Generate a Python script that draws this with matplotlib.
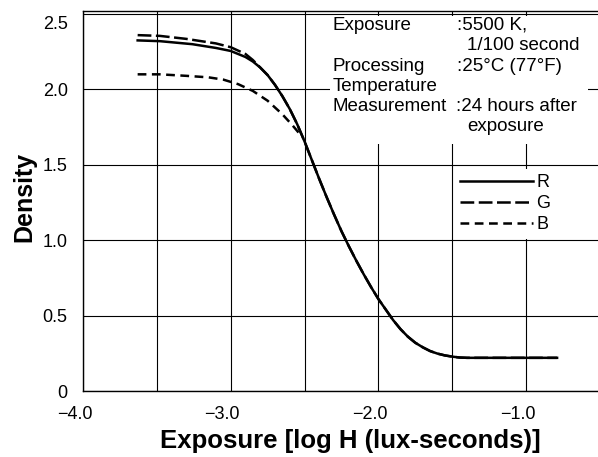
import matplotlib
matplotlib.use("Agg")
import matplotlib.pyplot as plt
import matplotlib.transforms as mtransforms
from matplotlib.patches import Rectangle

plt.rcParams['font.family'] = ['Liberation Sans', 'DejaVu Sans']

# characteristic curves
r_x = [-3.63, -3.48, -3.26, -3.10, -3.00, -2.90, -2.85, -2.80, -2.75, -2.70, -2.65, -2.60,
       -2.55, -2.50, -2.45, -2.40, -2.35, -2.30, -2.25, -2.20, -2.15, -2.10, -2.05, -2.00,
       -1.95, -1.90, -1.85, -1.80, -1.75, -1.70, -1.65, -1.60, -1.55, -1.50, -1.45, -1.40, -0.79]
r_y = [2.325, 2.32, 2.30, 2.275, 2.255, 2.215, 2.185, 2.145, 2.095, 2.03, 1.955, 1.87,
       1.77, 1.655, 1.53, 1.405, 1.285, 1.17, 1.06, 0.96, 0.865, 0.775, 0.69, 0.61,
       0.54, 0.47, 0.41, 0.36, 0.32, 0.29, 0.265, 0.248, 0.236, 0.228, 0.222, 0.22, 0.22]

g_x = [-3.63, -3.48, -3.30, -3.10, -3.00, -2.90, -2.85, -2.80, -2.75, -2.70, -2.65, -2.60,
       -2.55, -2.50, -2.45, -2.40, -2.35, -2.30, -2.25, -2.20, -2.15, -2.10, -2.05, -2.00,
       -1.95, -1.90, -1.85, -1.80, -1.75, -1.70, -1.65, -1.60, -1.55, -1.50, -1.45, -1.40, -0.79]
g_y = [2.36, 2.355, 2.335, 2.305, 2.28, 2.235, 2.195, 2.145, 2.095, 2.03, 1.955, 1.87,
       1.77, 1.655, 1.53, 1.405, 1.285, 1.17, 1.06, 0.96, 0.865, 0.775, 0.69, 0.61,
       0.54, 0.47, 0.41, 0.36, 0.32, 0.29, 0.265, 0.248, 0.236, 0.228, 0.222, 0.22, 0.22]

b_x = [-3.63, -3.48, -3.30, -3.15, -3.05, -2.95, -2.85, -2.75, -2.65, -2.58, -2.52]
b_y = [2.10, 2.10, 2.09, 2.08, 2.065, 2.035, 1.99, 1.925, 1.835, 1.76, 1.69]

x_ticks = [-4.0, -3.0, -2.0, -1.0]
x_tick_labels = ['\u22124.0', '\u22123.0', '\u22122.0', '\u22121.0']
x_grid = [-3.5, -2.5, -1.5]
y_ticks = [0, 0.5, 1.0, 1.5, 2.0, 2.5]
y_tick_labels = ['0', '0.5', '1.0', '1.5', '2.0', '2.5']

notes = [('Exposure', 333, 30), (':5500 K,', 457, 30), ('1/100 second', 467, 50),
         ('Processing', 333, 71), (':25\u00b0C (77\u00b0F)', 457, 71), ('Temperature', 333, 91),
         ('Measurement', 333, 111), (':24 hours after', 456, 111), ('exposure', 467, 131)]

W, H = 598, 457
fig = plt.figure(figsize=(W / 100, H / 100), dpi=100)
ax = fig.add_axes([83 / W, 66 / H, 515 / W, 380 / H])

ax.plot(r_x, r_y, color='black', lw=1.8, label='R', zorder=3)
ax.plot(g_x, g_y, color='black', lw=1.8, dashes=(5.5, 1.8), label='G', zorder=3)
ax.plot(b_x, b_y, color='black', lw=1.8, dashes=(3.5, 2.2), label='B', zorder=3)

ax.set_xlim(-4, -0.513)
ax.set_ylim(0, 2.52)
ax.set_xticks(x_ticks)
ax.set_xticklabels(x_tick_labels)
ax.set_xticks(x_grid, minor=True)
ax.set_yticks(y_ticks)
ax.set_yticklabels(y_tick_labels)
ax.set_axisbelow(True)
ax.grid(True, which='both', color='black', lw=0.8)
ax.tick_params(which='both', length=0)
ax.tick_params(axis='y', pad=11, labelsize=13)
ax.tick_params(axis='x', pad=11, labelsize=13)
ax.spines['right'].set_visible(False)
for sp in ax.spines.values():
    sp.set_linewidth(1.0)

# the minus sign pushes the labels a little left in the original
shift = mtransforms.ScaledTranslation(-6 / 72, 0, fig.dpi_scale_trans)
for lab in ax.get_xticklabels():
    lab.set_transform(lab.get_transform() + shift)
# top label sits a bit lower than its grid line
top_lab = ax.get_yticklabels()[-1]
top_lab.set_transform(top_lab.get_transform() + mtransforms.ScaledTranslation(0, -6 / 72, fig.dpi_scale_trans))

ax.set_xlabel('Exposure [log H (lux-seconds)]', fontsize=18.5, fontweight='bold')
ax.xaxis.set_label_coords(0.52, -0.1)
ax.set_ylabel('Density', fontsize=18, fontweight='bold')
ax.yaxis.set_label_coords(-0.091, 0.51)

# white panel behind the notes
ax.add_patch(Rectangle((-2.33, 1.64), 1.75, 0.85, facecolor='white', edgecolor='none', zorder=1))
for txt, px, py in notes:
    fig.text(px / W, 1 - py / H, txt, fontsize=13.5, va='baseline', ha='left', zorder=4)

leg = ax.legend(loc='upper left', bbox_to_anchor=(455 / W, 1 - 169 / H), bbox_transform=fig.transFigure,
                borderaxespad=0, borderpad=0.3, fontsize=13, handlelength=4.0, handletextpad=0.2,
                labelspacing=0.22, fancybox=False, framealpha=1, facecolor='white', edgecolor='white')
leg.get_frame().set_linewidth(0)

fig.savefig('out.png', dpi=100)
